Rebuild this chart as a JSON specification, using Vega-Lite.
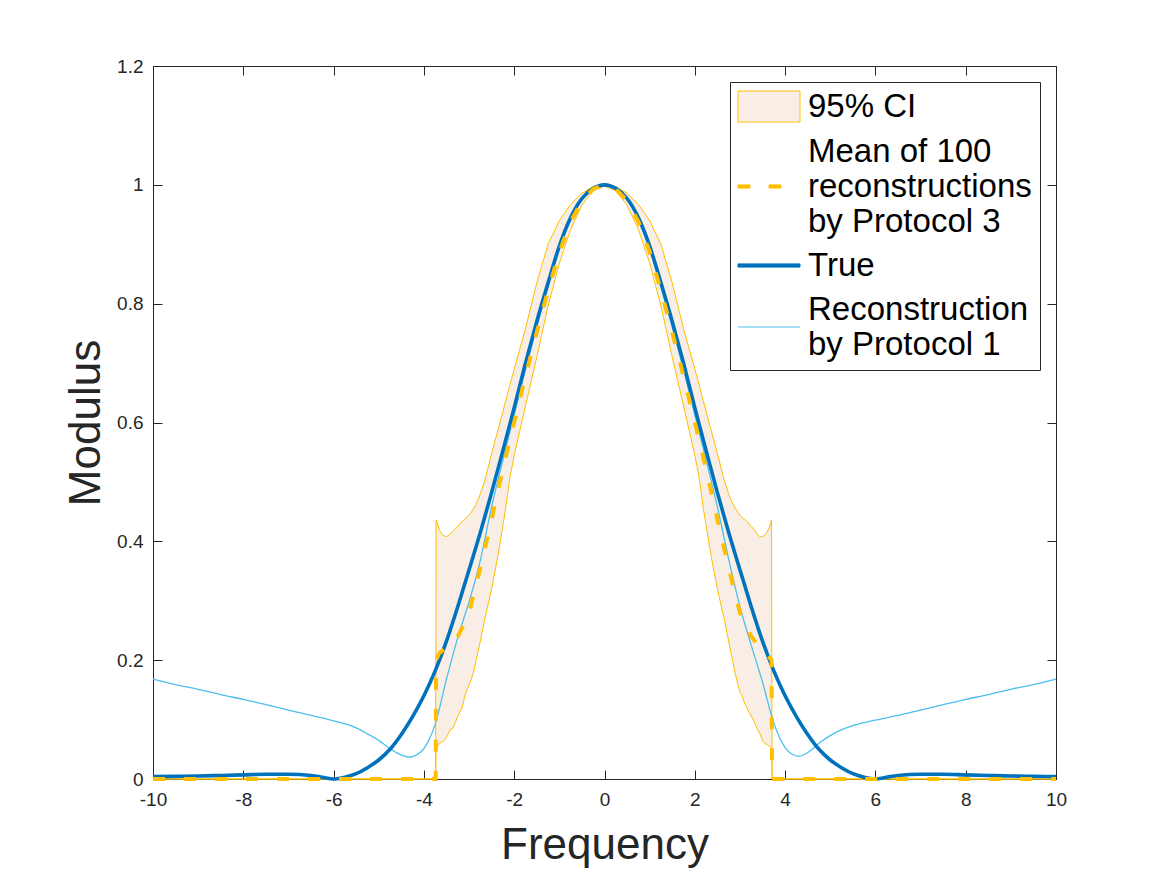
{
  "$schema": "https://vega.github.io/schema/vega-lite/v6.json",
  "width": 903,
  "height": 713,
  "autosize": {"type": "none"},
  "padding": {"left": 153, "top": 66, "right": 111, "bottom": 96},
  "background": "white",
  "config": {
    "font": "Liberation Sans",
    "view": {"stroke": "#262626", "strokeWidth": 1},
    "axis": {
      "grid": false,
      "domainColor": "#262626",
      "tickColor": "#262626",
      "labelColor": "#262626",
      "titleColor": "#262626",
      "labelFont": "Liberation Sans",
      "titleFont": "Liberation Sans",
      "labelFontSize": 19,
      "titleFontSize": 44,
      "titleFontWeight": "normal",
      "tickSize": -9,
      "tickWidth": 1,
      "domainWidth": 1
    }
  },
  "datasets": {
    "ci": [
      {"x": -10, "lo": 0, "hi": 0},
      {"x": -3.74, "lo": 0, "hi": 0},
      {"x": -3.73, "lo": 0.052, "hi": 0.436},
      {"x": -3.65, "lo": 0.06, "hi": 0.418},
      {"x": -3.6, "lo": 0.062, "hi": 0.412},
      {"x": -3.55, "lo": 0.065, "hi": 0.409},
      {"x": -3.5, "lo": 0.07, "hi": 0.408},
      {"x": -3.45, "lo": 0.078, "hi": 0.41},
      {"x": -3.4, "lo": 0.084, "hi": 0.414},
      {"x": -3.35, "lo": 0.086, "hi": 0.418},
      {"x": -3.3, "lo": 0.096, "hi": 0.421},
      {"x": -3.25, "lo": 0.105, "hi": 0.425},
      {"x": -3.2, "lo": 0.114, "hi": 0.43},
      {"x": -3.15, "lo": 0.12, "hi": 0.434},
      {"x": -3.1, "lo": 0.138, "hi": 0.437},
      {"x": -3.05, "lo": 0.15, "hi": 0.44},
      {"x": -3.0, "lo": 0.158, "hi": 0.444},
      {"x": -2.95, "lo": 0.168, "hi": 0.449},
      {"x": -2.9, "lo": 0.18, "hi": 0.455},
      {"x": -2.85, "lo": 0.198, "hi": 0.462},
      {"x": -2.8, "lo": 0.215, "hi": 0.47},
      {"x": -2.75, "lo": 0.232, "hi": 0.48},
      {"x": -2.65, "lo": 0.27, "hi": 0.503},
      {"x": -2.5, "lo": 0.32, "hi": 0.548},
      {"x": -2.35, "lo": 0.38, "hi": 0.59},
      {"x": -2.2, "lo": 0.45, "hi": 0.633},
      {"x": -2.1, "lo": 0.505, "hi": 0.662},
      {"x": -2.0, "lo": 0.545, "hi": 0.69},
      {"x": -1.75, "lo": 0.628, "hi": 0.758},
      {"x": -1.5, "lo": 0.71, "hi": 0.835},
      {"x": -1.25, "lo": 0.796, "hi": 0.9},
      {"x": -1.0, "lo": 0.868, "hi": 0.94},
      {"x": -0.75, "lo": 0.925, "hi": 0.967},
      {"x": -0.5, "lo": 0.966, "hi": 0.986},
      {"x": -0.25, "lo": 0.99, "hi": 0.997},
      {"x": 0, "lo": 0.998, "hi": 1.0},
      {"x": 0.25, "lo": 0.99, "hi": 0.997},
      {"x": 0.5, "lo": 0.966, "hi": 0.986},
      {"x": 0.75, "lo": 0.925, "hi": 0.967},
      {"x": 1.0, "lo": 0.868, "hi": 0.94},
      {"x": 1.25, "lo": 0.796, "hi": 0.9},
      {"x": 1.5, "lo": 0.71, "hi": 0.835},
      {"x": 1.75, "lo": 0.628, "hi": 0.758},
      {"x": 2.0, "lo": 0.545, "hi": 0.69},
      {"x": 2.1, "lo": 0.505, "hi": 0.662},
      {"x": 2.2, "lo": 0.45, "hi": 0.633},
      {"x": 2.35, "lo": 0.38, "hi": 0.59},
      {"x": 2.5, "lo": 0.32, "hi": 0.548},
      {"x": 2.65, "lo": 0.27, "hi": 0.503},
      {"x": 2.75, "lo": 0.232, "hi": 0.48},
      {"x": 2.8, "lo": 0.212, "hi": 0.47},
      {"x": 2.85, "lo": 0.195, "hi": 0.462},
      {"x": 2.9, "lo": 0.176, "hi": 0.455},
      {"x": 2.95, "lo": 0.16, "hi": 0.449},
      {"x": 3.0, "lo": 0.146, "hi": 0.444},
      {"x": 3.05, "lo": 0.14, "hi": 0.44},
      {"x": 3.1, "lo": 0.128, "hi": 0.437},
      {"x": 3.15, "lo": 0.12, "hi": 0.434},
      {"x": 3.2, "lo": 0.112, "hi": 0.43},
      {"x": 3.25, "lo": 0.106, "hi": 0.425},
      {"x": 3.3, "lo": 0.099, "hi": 0.421},
      {"x": 3.35, "lo": 0.09, "hi": 0.416},
      {"x": 3.4, "lo": 0.082, "hi": 0.41},
      {"x": 3.45, "lo": 0.075, "hi": 0.408},
      {"x": 3.5, "lo": 0.064, "hi": 0.408},
      {"x": 3.55, "lo": 0.06, "hi": 0.41},
      {"x": 3.6, "lo": 0.058, "hi": 0.415},
      {"x": 3.65, "lo": 0.055, "hi": 0.424},
      {"x": 3.7, "lo": 0.052, "hi": 0.436},
      {"x": 3.71, "lo": 0, "hi": 0},
      {"x": 10, "lo": 0, "hi": 0}
    ],
    "meanP3": [
      {"x": -10, "y": 0},
      {"x": -3.74, "y": 0},
      {"x": -3.73, "y": 0.2},
      {"x": -3.66, "y": 0.212},
      {"x": -3.55, "y": 0.218},
      {"x": -3.45, "y": 0.223},
      {"x": -3.35, "y": 0.23},
      {"x": -3.25, "y": 0.24},
      {"x": -3.15, "y": 0.255},
      {"x": -3.05, "y": 0.27},
      {"x": -3.0, "y": 0.28},
      {"x": -2.75, "y": 0.355},
      {"x": -2.5, "y": 0.437},
      {"x": -2.25, "y": 0.522},
      {"x": -2.0, "y": 0.6},
      {"x": -1.75, "y": 0.678},
      {"x": -1.5, "y": 0.752},
      {"x": -1.25, "y": 0.822},
      {"x": -1.0, "y": 0.887},
      {"x": -0.75, "y": 0.938},
      {"x": -0.5, "y": 0.973},
      {"x": -0.25, "y": 0.993},
      {"x": 0, "y": 1.0},
      {"x": 0.25, "y": 0.993},
      {"x": 0.5, "y": 0.973},
      {"x": 0.75, "y": 0.938},
      {"x": 1.0, "y": 0.887},
      {"x": 1.25, "y": 0.822},
      {"x": 1.5, "y": 0.752},
      {"x": 1.75, "y": 0.678},
      {"x": 2.0, "y": 0.6},
      {"x": 2.25, "y": 0.522},
      {"x": 2.5, "y": 0.437},
      {"x": 2.75, "y": 0.355},
      {"x": 3.0, "y": 0.28},
      {"x": 3.05, "y": 0.27},
      {"x": 3.15, "y": 0.255},
      {"x": 3.25, "y": 0.24},
      {"x": 3.35, "y": 0.23},
      {"x": 3.45, "y": 0.223},
      {"x": 3.55, "y": 0.214},
      {"x": 3.65, "y": 0.205},
      {"x": 3.7, "y": 0.2},
      {"x": 3.71, "y": 0},
      {"x": 10, "y": 0}
    ],
    "trueCurve": [
      {"x": -10, "y": 0.004}, {"x": -9.5, "y": 0.0045}, {"x": -9, "y": 0.005}, {"x": -8.5, "y": 0.006},
      {"x": -8, "y": 0.007}, {"x": -7.5, "y": 0.008}, {"x": -7, "y": 0.008}, {"x": -6.5, "y": 0.006},
      {"x": -6.25, "y": 0.003}, {"x": -6, "y": 0}, {"x": -5.75, "y": 0.003}, {"x": -5.5, "y": 0.009},
      {"x": -5.25, "y": 0.019}, {"x": -5, "y": 0.032}, {"x": -4.75, "y": 0.05}, {"x": -4.5, "y": 0.075},
      {"x": -4.25, "y": 0.105}, {"x": -4, "y": 0.14}, {"x": -3.75, "y": 0.182}, {"x": -3.5, "y": 0.232},
      {"x": -3.25, "y": 0.29}, {"x": -3, "y": 0.352}, {"x": -2.75, "y": 0.415}, {"x": -2.5, "y": 0.482},
      {"x": -2.25, "y": 0.553}, {"x": -2, "y": 0.625}, {"x": -1.75, "y": 0.7}, {"x": -1.5, "y": 0.77},
      {"x": -1.25, "y": 0.835}, {"x": -1, "y": 0.897}, {"x": -0.75, "y": 0.945}, {"x": -0.5, "y": 0.977},
      {"x": -0.25, "y": 0.994}, {"x": 0, "y": 1.0}, {"x": 0.25, "y": 0.994}, {"x": 0.5, "y": 0.977},
      {"x": 0.75, "y": 0.945}, {"x": 1, "y": 0.897}, {"x": 1.25, "y": 0.835}, {"x": 1.5, "y": 0.77},
      {"x": 1.75, "y": 0.7}, {"x": 2, "y": 0.625}, {"x": 2.25, "y": 0.553}, {"x": 2.5, "y": 0.482},
      {"x": 2.75, "y": 0.415}, {"x": 3, "y": 0.352}, {"x": 3.25, "y": 0.29}, {"x": 3.5, "y": 0.232},
      {"x": 3.75, "y": 0.182}, {"x": 4, "y": 0.14}, {"x": 4.25, "y": 0.105}, {"x": 4.5, "y": 0.075},
      {"x": 4.75, "y": 0.05}, {"x": 5, "y": 0.032}, {"x": 5.25, "y": 0.019}, {"x": 5.5, "y": 0.009},
      {"x": 5.75, "y": 0.003}, {"x": 6, "y": 0}, {"x": 6.25, "y": 0.003}, {"x": 6.5, "y": 0.006},
      {"x": 7, "y": 0.008}, {"x": 7.5, "y": 0.008}, {"x": 8, "y": 0.007}, {"x": 8.5, "y": 0.006},
      {"x": 9, "y": 0.005}, {"x": 9.5, "y": 0.0045}, {"x": 10, "y": 0.004}
    ],
    "reconP1": [
      {"x": -10, "y": 0.168}, {"x": -9.5, "y": 0.159}, {"x": -9, "y": 0.151}, {"x": -8.5, "y": 0.142},
      {"x": -8, "y": 0.134}, {"x": -7.5, "y": 0.125}, {"x": -7, "y": 0.116}, {"x": -6.5, "y": 0.107},
      {"x": -6, "y": 0.098}, {"x": -5.75, "y": 0.093}, {"x": -5.5, "y": 0.086}, {"x": -5.25, "y": 0.076},
      {"x": -5, "y": 0.065}, {"x": -4.8, "y": 0.054}, {"x": -4.6, "y": 0.044}, {"x": -4.45, "y": 0.039},
      {"x": -4.3, "y": 0.037}, {"x": -4.15, "y": 0.041}, {"x": -4, "y": 0.051}, {"x": -3.9, "y": 0.064},
      {"x": -3.75, "y": 0.092}, {"x": -3.5, "y": 0.168}, {"x": -3.25, "y": 0.238}, {"x": -3, "y": 0.298},
      {"x": -2.75, "y": 0.368}, {"x": -2.5, "y": 0.458}, {"x": -2.25, "y": 0.537}, {"x": -2, "y": 0.613},
      {"x": -1.75, "y": 0.689}, {"x": -1.5, "y": 0.761}, {"x": -1.25, "y": 0.829}, {"x": -1, "y": 0.892},
      {"x": -0.75, "y": 0.941}, {"x": -0.5, "y": 0.975}, {"x": -0.25, "y": 0.994}, {"x": 0, "y": 1.0},
      {"x": 0.25, "y": 0.994}, {"x": 0.5, "y": 0.975}, {"x": 0.75, "y": 0.941}, {"x": 1, "y": 0.892},
      {"x": 1.25, "y": 0.829}, {"x": 1.5, "y": 0.761}, {"x": 1.75, "y": 0.689}, {"x": 2, "y": 0.613},
      {"x": 2.25, "y": 0.537}, {"x": 2.5, "y": 0.458}, {"x": 2.75, "y": 0.37}, {"x": 3, "y": 0.29},
      {"x": 3.25, "y": 0.225}, {"x": 3.5, "y": 0.163}, {"x": 3.75, "y": 0.094}, {"x": 3.9, "y": 0.066},
      {"x": 4, "y": 0.053}, {"x": 4.15, "y": 0.042}, {"x": 4.3, "y": 0.038}, {"x": 4.45, "y": 0.042},
      {"x": 4.6, "y": 0.05}, {"x": 4.8, "y": 0.063}, {"x": 5, "y": 0.073}, {"x": 5.25, "y": 0.083},
      {"x": 5.5, "y": 0.09}, {"x": 5.75, "y": 0.095}, {"x": 6, "y": 0.099}, {"x": 6.5, "y": 0.107},
      {"x": 7, "y": 0.116}, {"x": 7.5, "y": 0.125}, {"x": 8, "y": 0.134}, {"x": 8.5, "y": 0.142},
      {"x": 9, "y": 0.151}, {"x": 9.5, "y": 0.159}, {"x": 10, "y": 0.168}
    ]
  },
  "layer": [
    {
      "data": {"name": "ci"},
      "mark": {"type": "area", "opacity": 1, "color": "#F8EEE6", "interpolate": "linear"},
      "encoding": {
        "x": {
          "field": "x", "type": "quantitative",
          "scale": {"domain": [-10, 10], "nice": false, "zero": false},
          "axis": {
            "orient": "bottom",
            "values": [-10, -8, -6, -4, -2, 0, 2, 4, 6, 8, 10],
            "labelExpr": "toString(datum.value)",
            "labelPadding": 20,
            "labelFlush": false,
            "title": "Frequency",
            "titlePadding": 14
          }
        },
        "y": {
          "field": "hi", "type": "quantitative",
          "scale": {"domain": [0, 1.2], "nice": false, "zero": false},
          "axis": {
            "orient": "left",
            "values": [0, 0.2, 0.4, 0.6, 0.8, 1, 1.2],
            "format": ".1~f",
            "labelPadding": 19,
            "title": "Modulus",
            "titlePadding": 8
          }
        },
        "y2": {"field": "lo"}
      }
    },
    {
      "data": {"name": "ci"},
      "mark": {"type": "line", "strokeWidth": 1},
      "encoding": {
        "x": {"field": "x", "type": "quantitative", "axis": null},
        "y": {"field": "hi", "type": "quantitative", "axis": null},
        "color": {
          "datum": "95% CI",
          "type": "nominal",
          "scale": {
            "domain": ["95% CI", "Mean of 100|reconstructions|by Protocol 3", "True", "Reconstruction|by Protocol 1"],
            "range": ["#FFBF00", "#FFBF00", "#0072BD", "#4DBEEE"]
          },
          "legend": {
            "orient": "top-right",
            "offset": 16,
            "title": null,
            "padding": 8,
            "strokeColor": "#262626",
            "fillColor": "white",
            "symbolSize": 1024,
            "symbolStrokeWidth": 1,
            "symbolType": {"expr": "datum.value === '95% CI' ? 'M-1.031,-0.969H2.844V0.969H-1.031Z' : (datum.value === 'True' ? 'M-1.031,-0.1H2.844V0.1H-1.031Z' : (indexof(datum.value, 'Mean') === 0 ? 'M-1.031,2.0875H-0.281V2.2875H-1.031Z M0.906,2.0875H1.656V2.2875H0.906Z' : 'M-1.031,1.094H2.844'))"},
            "symbolFillColor": {"expr": "datum.value === '95% CI' ? '#F8EEE6' : (datum.value === 'True' ? '#0072BD' : (indexof(datum.value, 'Mean') === 0 ? '#FFBF00' : 'transparent'))"},
            "labelFont": "Liberation Sans",
            "labelFontSize": 33,
            "labelColor": "black",
            "labelOffset": 37,
            "labelLimit": 600,
            "rowPadding": 10,
            "labelExpr": "split(datum.label, '|')"
          }
        }
      }
    },
    {
      "data": {"name": "ci"},
      "mark": {"type": "line", "strokeWidth": 1},
      "encoding": {
        "x": {"field": "x", "type": "quantitative", "axis": null},
        "y": {"field": "lo", "type": "quantitative", "axis": null},
        "color": {"datum": "95% CI", "type": "nominal"}
      }
    },
    {
      "data": {"name": "reconP1"},
      "mark": {"type": "line", "strokeWidth": 1.3, "interpolate": "monotone"},
      "encoding": {
        "x": {"field": "x", "type": "quantitative", "axis": null},
        "y": {"field": "y", "type": "quantitative", "axis": null},
        "color": {"datum": "Reconstruction|by Protocol 1", "type": "nominal"}
      }
    },
    {
      "data": {"name": "trueCurve"},
      "mark": {"type": "line", "strokeWidth": 3.6, "interpolate": "monotone"},
      "encoding": {
        "x": {
          "field": "x", "type": "quantitative",
          "axis": {"orient": "top", "values": [-10, -8, -6, -4, -2, 0, 2, 4, 6, 8, 10], "labels": false, "title": null}
        },
        "y": {
          "field": "y", "type": "quantitative",
          "axis": {"orient": "right", "values": [0, 0.2, 0.4, 0.6, 0.8, 1, 1.2], "labels": false, "title": null}
        },
        "color": {"datum": "True", "type": "nominal"}
      }
    },
    {
      "data": {"name": "meanP3"},
      "mark": {"type": "line", "strokeWidth": 4, "strokeDash": [12, 19], "strokeCap": "butt"},
      "encoding": {
        "x": {"field": "x", "type": "quantitative", "axis": null},
        "y": {"field": "y", "type": "quantitative", "axis": null},
        "color": {"datum": "Mean of 100|reconstructions|by Protocol 3", "type": "nominal"}
      }
    }
  ]
}
